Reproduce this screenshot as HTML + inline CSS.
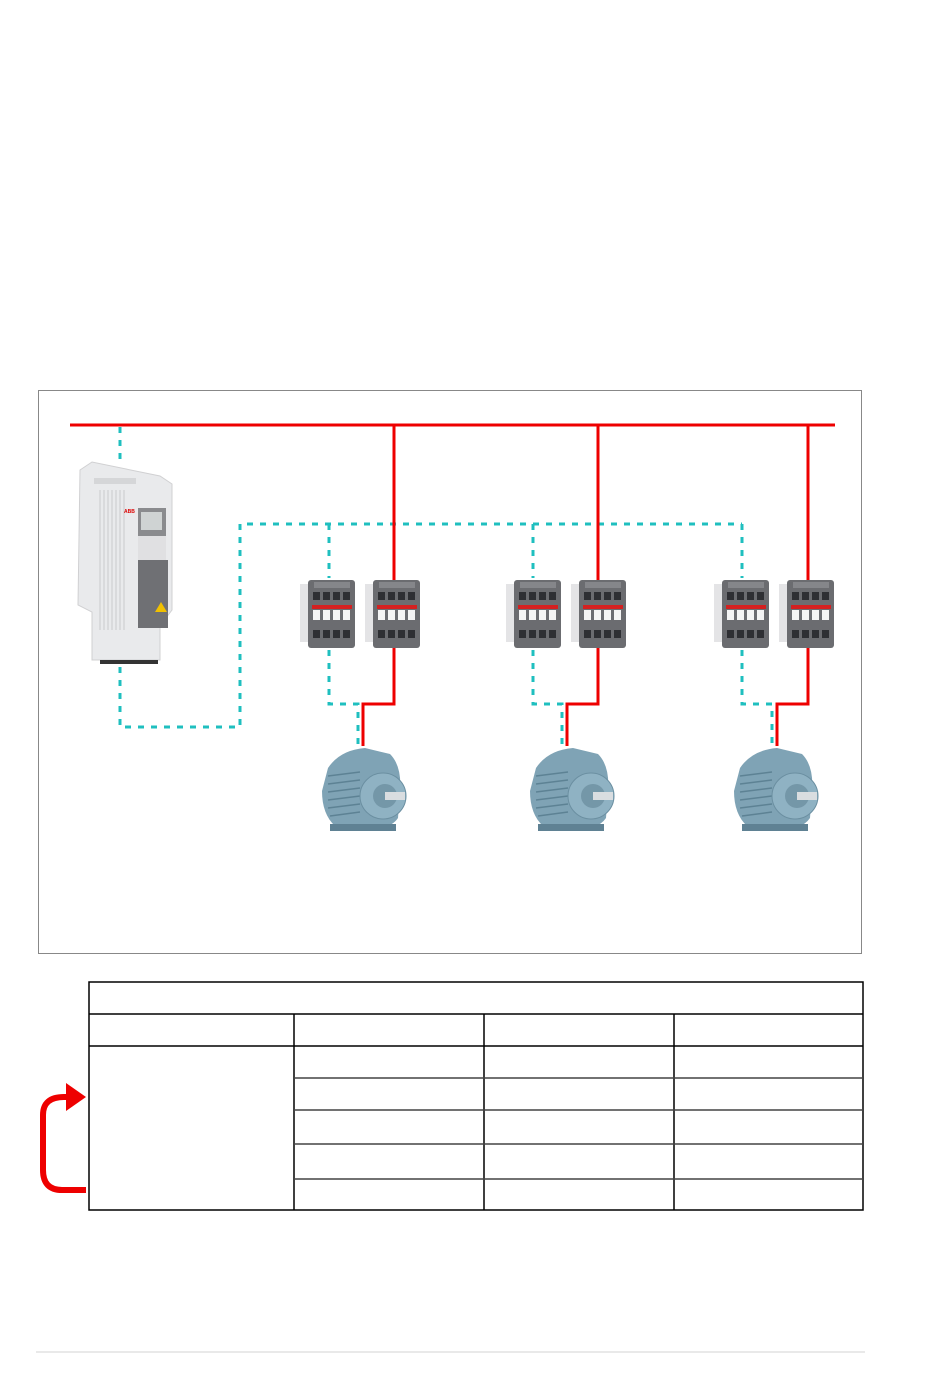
<!DOCTYPE html>
<html><head><meta charset="utf-8"><style>html,body{margin:0;padding:0;background:#fff}svg{display:block}</style></head>
<body>
<svg width="950" height="1381" viewBox="0 0 950 1381" xmlns="http://www.w3.org/2000/svg">
<defs>
<g id="ct">
<rect x="0" y="6" width="12" height="58" fill="#e4e4e6"/>
<rect x="8" y="2" width="47" height="68" rx="3" fill="#6b6c70"/>
<rect x="14" y="4" width="36" height="6" fill="#85868a"/>
<g fill="#2e2f33"><rect x="13" y="14" width="7" height="8"/><rect x="23" y="14" width="7" height="8"/><rect x="33" y="14" width="7" height="8"/><rect x="43" y="14" width="7" height="8"/>
<rect x="13" y="52" width="7" height="8"/><rect x="23" y="52" width="7" height="8"/><rect x="33" y="52" width="7" height="8"/><rect x="43" y="52" width="7" height="8"/></g>
<rect x="12" y="27" width="40" height="4" fill="#d42020"/>
<g fill="#f4f4f4"><rect x="13" y="32" width="7" height="10"/><rect x="23" y="32" width="7" height="10"/><rect x="33" y="32" width="7" height="10"/><rect x="43" y="32" width="7" height="10"/></g>
</g>
<g id="mt">
<path d="M8 22 Q20 4 45 2 L70 8 Q82 20 80 45 L78 72 Q70 84 45 84 L15 80 Q2 68 2 45 Z" fill="#7fa3b5"/>
<g stroke="#5d8294" stroke-width="1.5"><line x1="8" y1="30" x2="40" y2="26"/><line x1="8" y1="38" x2="40" y2="34"/><line x1="8" y1="46" x2="40" y2="42"/><line x1="8" y1="54" x2="40" y2="50"/><line x1="8" y1="62" x2="40" y2="58"/><line x1="10" y1="70" x2="40" y2="66"/></g>
<circle cx="63" cy="50" r="23" fill="#8fb2c3" stroke="#6b8fa1"/>
<circle cx="65" cy="50" r="12" fill="#7497a8"/>
<rect x="65" y="46" width="20" height="8" fill="#d9dde0"/>
<rect x="10" y="78" width="66" height="7" fill="#5f8193"/>
</g>
</defs>
<rect x="38.5" y="390.5" width="823" height="563" fill="none" stroke="#888" stroke-width="1"/>
<!-- cyan dotted -->
<g stroke="#1fbfbf" stroke-width="3" fill="none" stroke-dasharray="6 7">
<path d="M120 427 V462"/>
<path d="M120 667 V727 H240 V524 H742"/>
<path d="M329 524 V578"/><path d="M533 524 V578"/><path d="M742 524 V578"/>
<path d="M329 650 V704 H358 V746"/><path d="M533 650 V704 H562 V746"/><path d="M742 650 V704 H772 V746"/>
</g>
<!-- red -->
<g stroke="#ee0000" stroke-width="3" fill="none">
<path d="M70 425 H835"/>
<path d="M394 425 V580"/><path d="M598 425 V580"/><path d="M808 425 V580"/>
<path d="M394 648 V704 H363 V746"/><path d="M598 648 V704 H567 V746"/><path d="M808 648 V704 H777 V746"/>
</g>
<!-- drive -->
<g>
<path d="M80 470 L92 462 L160 476 L172 484 V610 L160 626 V660 H92 V612 L78 605 Z" fill="#e9eaec" stroke="#d0d0d2"/>
<rect x="94" y="478" width="42" height="6" fill="#d5d6d8"/>
<g stroke="#c9cacc" stroke-width="1"><line x1="100" y1="490" x2="100" y2="630"/><line x1="104" y1="490" x2="104" y2="630"/><line x1="108" y1="490" x2="108" y2="630"/><line x1="112" y1="490" x2="112" y2="630"/><line x1="116" y1="490" x2="116" y2="630"/><line x1="120" y1="490" x2="120" y2="630"/><line x1="124" y1="490" x2="124" y2="630"/></g>
<rect x="138" y="508" width="28" height="28" fill="#8a8b8e"/>
<rect x="141" y="512" width="21" height="18" fill="#cfd3d3"/>
<rect x="138" y="536" width="28" height="24" fill="#e0e0e2"/>
<rect x="138" y="560" width="30" height="68" fill="#6f7074"/>
<path d="M155 612 L161 602 L167 612 Z" fill="#f0c000"/>
<text x="124" y="513" font-family="Liberation Sans, sans-serif" font-size="5" fill="#d00" font-weight="bold">ABB</text>
<rect x="100" y="660" width="58" height="4" fill="#333"/>
</g>
<use href="#ct" x="300" y="578"/><use href="#ct" x="365" y="578"/>
<use href="#ct" x="506" y="578"/><use href="#ct" x="571" y="578"/>
<use href="#ct" x="714" y="578"/><use href="#ct" x="779" y="578"/>
<use href="#mt" x="320" y="746"/><use href="#mt" x="528" y="746"/><use href="#mt" x="732" y="746"/>
<!-- table -->
<g stroke="#000" stroke-width="1.5" fill="none">
<rect x="89" y="982" width="774" height="228"/>
<line x1="89" y1="1014" x2="863" y2="1014"/>
<line x1="89" y1="1046" x2="863" y2="1046"/>
<line x1="294" y1="1014" x2="294" y2="1210"/>
<line x1="484" y1="1014" x2="484" y2="1210"/>
<line x1="674" y1="1014" x2="674" y2="1210"/>
</g>
<g stroke="#444" stroke-width="1.5">
<line x1="294" y1="1078" x2="863" y2="1078"/>
<line x1="294" y1="1110" x2="863" y2="1110"/>
<line x1="294" y1="1144" x2="863" y2="1144"/>
<line x1="294" y1="1179" x2="863" y2="1179"/>
</g>
<!-- red arrow -->
<path d="M86 1190 H62 Q43 1190 43 1170 V1115 Q43 1097 64 1097 H70" stroke="#ee0000" stroke-width="6" fill="none"/>
<path d="M66 1083 L86 1097 L66 1111 Z" fill="#ee0000"/>
<line x1="36" y1="1352" x2="865" y2="1352" stroke="#e2e2e2" stroke-width="1.5"/>
</svg>
</body></html>
